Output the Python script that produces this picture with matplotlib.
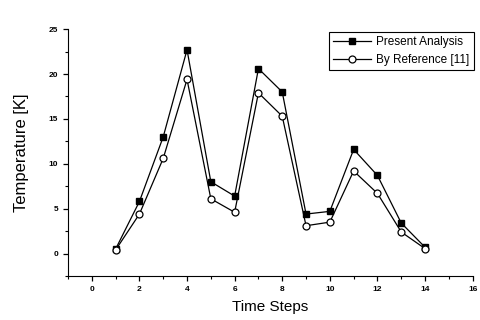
import matplotlib
matplotlib.use("Agg")
import matplotlib.pyplot as plt
from matplotlib.ticker import MultipleLocator

steps = [1, 2, 3, 4, 5, 6, 7, 8, 9, 10, 11, 12, 13, 14]
present = [0.5, 5.8, 13.0, 22.7, 8.0, 6.4, 20.6, 18.0, 4.4, 4.7, 11.6, 8.7, 3.4, 0.7]
reference = [0.4, 4.4, 10.6, 19.4, 6.1, 4.6, 17.9, 15.3, 3.1, 3.5, 9.2, 6.7, 2.4, 0.55]
labels = ["Present Analysis", "By Reference [11]"]

plt.rcParams['font.family'] = ['Liberation Sans', 'DejaVu Sans']
fig = plt.figure(figsize=(4.8, 3.2), dpi=100)
ax = fig.add_axes([0.1417, 0.1375, 0.843, 0.7715])

ax.plot(steps, present, '-', color='black', lw=0.9, marker='s', ms=4.5,
        mfc='black', mec='black', label=labels[0])
ax.plot(steps, reference, '-', color='black', lw=0.9, marker='o', ms=5,
        mfc='white', mec='black', mew=0.9, label=labels[1])

ax.set_xlim(-1, 16)
ax.set_ylim(-2.5, 25)
ax.xaxis.set_major_locator(MultipleLocator(2))
ax.xaxis.set_minor_locator(MultipleLocator(1))
ax.yaxis.set_major_locator(MultipleLocator(5))
ax.yaxis.set_minor_locator(MultipleLocator(2.5))
ax.spines['top'].set_visible(False)
ax.spines['right'].set_visible(False)
ax.tick_params(which='major', direction='out', length=3.5, width=0.9, labelsize=6)
ax.tick_params(which='minor', direction='out', length=2, width=0.8)
for lab in ax.get_xticklabels() + ax.get_yticklabels():
    lab.set_fontweight('bold')

ax.set_xlabel("Time Steps", fontsize=11, labelpad=5)
ax.set_ylabel("Temperature [K]", fontsize=12, labelpad=14)

leg = ax.legend(loc='upper right', bbox_to_anchor=(1.003, 0.99), fontsize=8.5,
                frameon=True, fancybox=False, edgecolor='black', framealpha=1,
                handlelength=3.2, handletextpad=0.5, borderpad=0.35,
                labelspacing=0.55, borderaxespad=0.0)
leg.get_frame().set_linewidth(0.8)

fig.savefig("out.png", dpi=100)
